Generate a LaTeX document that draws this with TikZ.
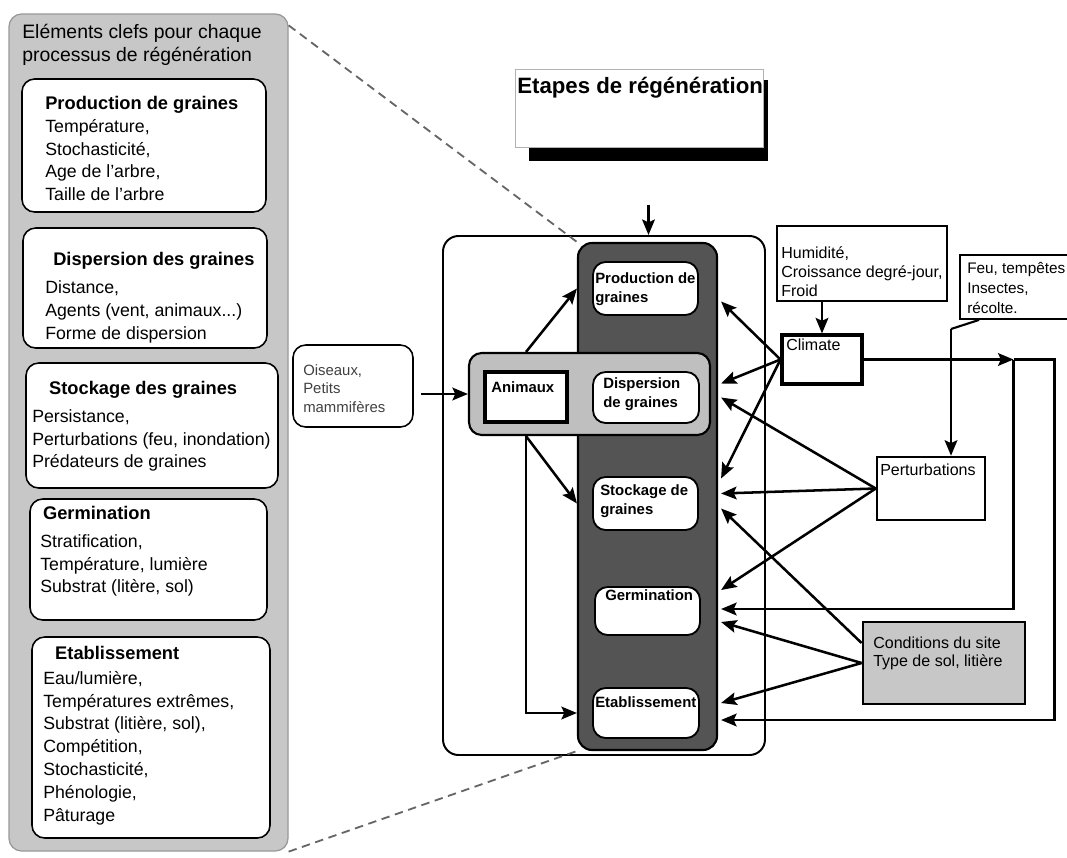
\documentclass[tikz,border=0pt]{standalone}
\usepackage{fontspec}
\setmainfont{Liberation Sans}
\usetikzlibrary{positioning,fit,calc,arrows.meta}
\newcommand\sz[2]{\fontsize{#1}{#2}\selectfont}

\begin{document}
\begin{tikzpicture}[x=0.025cm,y=-0.025cm,
	panel/.style={draw=black!40,fill=black!22,rounded corners=9pt,line width=.9pt,inner sep=0pt},
	keybox/.style={draw,fill=white,rounded corners=9pt,line width=1.1pt,inner sep=0pt},
	keytxt/.style={anchor=north west,align=left,inner sep=0pt,font=\sz{12.6}{16.2}},
	stage/.style={draw,fill=white,rounded corners=9pt,line width=1.3pt,inner sep=0pt},
	stagetxt/.style={anchor=north west,align=left,inner sep=0pt,font=\bfseries\sz{10.6}{13.5}},
	factor/.style={draw,fill=white,line width=1.3pt,inner sep=0pt},
	factortxt/.style={anchor=north west,align=left,inner sep=0pt,font=\sz{11.4}{13.5}},
	arr/.style={-{Stealth[length=11pt,width=9pt,inset=2pt]},line width=1.8pt}]

	\useasboundingbox (0,0) rectangle (1067,857);
	\clip (0,0) rectangle (1067,857);
	\fill[white] (0,0) rectangle (1067,857);

	% elements clefs
	\node[panel,fit={(9,14) (288,851)}] (panel) {};
	\node[anchor=north west,align=left,inner sep=0pt,font=\sz{13.8}{16.4}] (head) at (22,24) {Eléments clefs pour chaque\\processus de régénération};

	\node[keybox,fit={(22,79) (266,212)}] (kprod) {};
	\node[keytxt] (tprod) at (45,96) {\textbf{\sz{13}{16.2}Production de graines}\\Température,\\Stochasticité,\\Age de l'arbre,\\Taille de l'arbre};
	\node[keybox,fit={(23,228) (267,348)}] (kdisp) {};
	\node[keytxt] (tdisp) at (45,252) {\hspace*{5.7pt}\textbf{\sz{13}{16.2}Dispersion des graines}\\[4pt]Distance,\\Agents (vent, animaux...)\\Forme de dispersion};
	\node[keybox,fit={(26,363) (278,488)}] (kstock) {};
	\node[keytxt] (tstock) at (32,381) {\hspace*{12pt}\textbf{\sz{13}{16.2}Stockage des graines}\\[3.5pt]Persistance,\\Perturbations (feu, inondation)\\Prédateurs de graines};
	\node[keybox,fit={(30,499) (267,620)}] (kgerm) {};
	\node[keytxt] (tgerm) at (40,506) {\hspace*{2pt}\textbf{\sz{13}{16.2}Germination}\\[3.5pt]Stratification,\\Température, lumière\\Substrat (litère, sol)};
	\node[keybox,fit={(32,637) (270,838)}] (ketab) {};
	\node[keytxt] (tetab) at (43,646) {\hspace*{8.5pt}\textbf{\sz{13}{16.2}Etablissement}\\[1.5pt]Eau/lumière,\\Températures extrêmes,\\Substrat (litière, sol),\\Compétition,\\Stochasticité,\\Phénologie,\\Pâturage};

	% etapes
	\node[fit={(529,80) (768,161)},fill=black,inner sep=0pt] (shadow) {};
	\node[fit={(515,69) (763,147)},draw=black!30,fill=white,line width=.5pt,inner sep=0pt] (etapes) {};
	\node[anchor=north west,inner sep=0pt,font=\bfseries\sz{15.8}{18}] (tetapes) at (517,77) {Etapes de régénération};

	\node[fit={(293,345) (413,427)},draw,fill=white,rounded corners=9pt,line width=1.1pt,inner sep=0pt] (ois) {};
	\node[anchor=north west,align=left,inner sep=0pt,font=\sz{10.6}{13.2},text=black!75] (tois) at (303,364) {Oiseaux,\\Petits\\mammifères};

	\node[fit={(443,236) (765,755)},draw,fill=white,rounded corners=11pt,line width=1.4pt,inner sep=0pt] (outer) {};
	\node[fit={(578,243) (717,750)},draw,fill=black!67,rounded corners=10pt,line width=1.5pt,inner sep=0pt] (col) {};
	\node[fit={(469,353) (710,435)},draw,fill=black!25,rounded corners=9pt,line width=1.5pt,inner sep=0pt] (band) {};
	\node[fit={(485,372) (567,422)},draw,fill=white,line width=2.2pt,inner sep=0pt] (anim) {};
	\node[stagetxt] (tanim) at (491,381) {Animaux};

	\node[stage,fit={(593,262) (698,315)}] (prod) {};
	\node[stagetxt] (tprod2) at (595,272) {Production de\\graines};
	\node[stage,fit={(593,372) (699,423)}] (disp) {};
	\node[stagetxt] (tdisp2) at (603,377) {Dispersion\\de graines};
	\node[stage,fit={(593,477) (698,530)}] (stock) {};
	\node[stagetxt] (tstock2) at (600,484) {Stockage de\\graines};
	\node[stage,fit={(595,587) (700,635)}] (germ) {};
	\node[stagetxt] (tgerm2) at (605,589) {Germination};
	\node[stage,fit={(593,688) (699,738)}] (etab) {};
	\node[stagetxt] (tetab2) at (595,696) {Etablissement};

	% facteurs
	\node[factor,fit={(777,226) (947,301)}] (hum) {};
	\node[factortxt] (thum) at (781,246) {Humidité,\\Croissance degré-jour,\\Froid};
	\node[factor,line width=2.2pt,fit={(782,335) (862,384)}] (clim) {};
	\node[factortxt] (tclim) at (786,339) {Climate};
	\node[factor,fit={(960,255) (1090,319)}] (feu) {};
	\node[factortxt,font=\sz{10.9}{14.2}] (tfeu) at (967,262) {Feu, tempêtes\\Insectes,\\récolte.};
	\node[factor,line width=1.8pt,fit={(877,457) (985,520)}] (pert) {};
	\node[factortxt] (tpert) at (880,464) {Perturbations};
	\node[factor,line width=2pt,fill=black!22,fit={(863,622) (1025,704)}] (cond) {};
	\node[factortxt,font=\sz{11.4}{12.8}] (tcond) at (873,637) {Conditions du site\\Type de sol, litière};

	\draw[arr,shorten <=31pt] (shadow.south) -- (shadow.south |- outer.north);
	\draw[arr,shorten <=5pt] (ois.east |- band.west) -- (band.west);
	\draw[arr] (anim.north |- band.north) -- (col.west |- prod.west);
	\draw[arr] (anim.south |- band.south) -- (col.west |- stock.west);
	\draw[arr] (anim.south |- band.south) |- (col.west |- etab.west);

	\draw[arr] (clim.north |- hum.south) -- (clim.north);
	\coordinate (fp) at (951,329);
	\draw[line width=1.5pt] (fp) -- ($(feu.south west)+(20,0)$);
	\draw[arr] (fp) -- (fp |- pert.north);

	\draw[arr] (clim.west) -- ($(col.east |- prod.east)+(3,13)$);
	\draw[arr] (clim.west) -- ($(col.east |- disp.east)+(3,-14)$);
	\draw[arr] (clim.west) -- ($(col.east |- stock.east)+(3,-25)$);
	\draw[arr] (pert.west) -- ($(col.east |- disp.east)+(3,0)$);
	\draw[arr] (pert.west) -- ($(col.east |- stock.east)+(3,-10)$);
	\draw[arr] (pert.west) -- ($(col.east |- germ.east)+(3,-21)$);
	\draw[arr] ($(cond.west)+(0,-20)$) -- ($(col.east |- stock.east)+(3,5)$);
	\draw[arr] (cond.west) -- ($(col.east |- germ.east)+(3,11)$);
	\draw[arr] (cond.west) -- ($(col.east |- etab.east)+(3,-10)$);

	\coordinate (br) at ($(clim.east)+(150,0)$);
	\draw[arr] (clim.east) -- (br);
	\draw[arr] (br) |- ($(col.east |- germ.east)+(3,-2)$);
	\draw[arr] (br) -- ++(41,0) |- ($(col.east |- etab.east)+(3,7)$);

	\draw[black!60,line width=1.3pt,dash pattern=on 6pt off 4pt] ($(panel.north east)+(0,12)$) -- (col.north west);
	\draw[black!60,line width=1.3pt,dash pattern=on 6pt off 4pt] (panel.south east) -- (col.south west);
\end{tikzpicture}
\end{document}
